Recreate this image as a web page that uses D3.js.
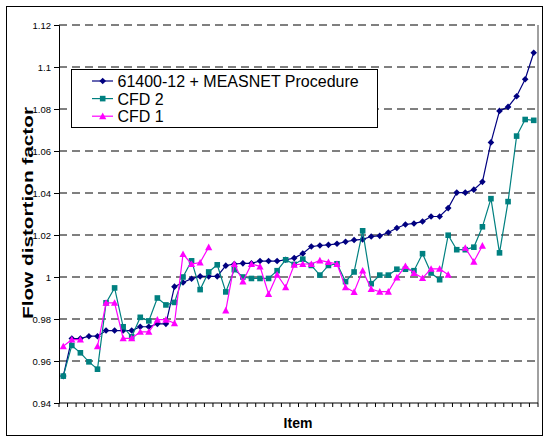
<!DOCTYPE html>
<html>
<head>
<meta charset="utf-8">
<script src="https://cdn.jsdelivr.net/npm/d3@7"></script>
<style>
  body { margin: 0; background: #fff; }
  svg { display: block; font-family: Arial, "Liberation Sans", sans-serif; }
</style>
</head>
<body>
<div id="chart"></div>
<script>
// item numbers (no labels shown on the axis)
var items = d3.range(1, 57);

var measnet = [0.9528, 0.9707, 0.9707, 0.9718, 0.9718, 0.9745, 0.9745, 0.9745, 0.9745, 0.9763,
  0.9763, 0.9777, 0.9777, 0.9954, 0.9974, 0.9992, 1.0003, 1.0003, 1.0003, 1.0054,
  1.0062, 1.0065, 1.0065, 1.0076, 1.0076, 1.0076, 1.0082, 1.0090, 1.0112, 1.0145,
  1.0150, 1.0153, 1.0158, 1.0168, 1.0176, 1.0179, 1.0193, 1.0196, 1.0212, 1.0233,
  1.0250, 1.0255, 1.0264, 1.0288, 1.0288, 1.0328, 1.0402, 1.0402, 1.0416, 1.0453,
  1.0641, 1.0791, 1.0810, 1.0861, 1.0942, 1.1068];

var cfd2 = [0.9528, 0.9674, 0.9639, 0.9596, 0.9561, 0.9877, 0.9948, 0.9763, 0.9715, 0.9808,
  0.9791, 0.9900, 0.9867, 0.9879, 1.0000, 1.0077, 0.9940, 1.0024, 1.0058, 0.9929,
  1.0035, 1.0000, 0.9993, 0.9993, 0.9993, 1.0030, 1.0082, 1.0060, 1.0085, 1.0055,
  1.0009, 1.0055, 1.0063, 0.9978, 1.0024, 1.0220, 0.9968, 1.0009, 1.0009, 1.0037,
  1.0037, 1.0030, 1.0111, 1.0019, 0.9987, 1.0199, 1.0130, 1.0130, 1.0142, 1.0239,
  1.0373, 1.0115, 1.0359, 1.0671, 1.0750, 1.0746];

var cfd1 = [0.9670, 0.9702, 0.9702, null, 0.9670, 0.9877, 0.9877, 0.9708, 0.9708, 0.9739,
  0.9739, 0.9797, 0.9797, 0.9780, 1.0109, 1.0062, 1.0069, 1.0142, null, 0.9841,
  1.0062, 0.9979, 1.0062, 1.0050, 0.9919, 1.0011, 0.9951, 1.0058, 1.0062, 1.0062,
  1.0079, 1.0071, 1.0062, 0.9951, 0.9929, 1.0031, 0.9943, 0.9930, 0.9930, 0.9998,
  1.0052, 1.0019, 0.9995, 1.0039, 1.0039, 1.0011, null, 1.0139, 1.0073, 1.0149,
  null, null, null, null, null, null];

var yTicks = [0.94, 0.96, 0.98, 1, 1.02, 1.04, 1.06, 1.08, 1.1, 1.12];

var series = [
  {label: "61400-12 + MEASNET Procedure", values: measnet, color: "#000080", marker: "diamond"},
  {label: "CFD 2", values: cfd2, color: "#008080", marker: "square"},
  {label: "CFD 1", values: cfd1, color: "#FF00FF", marker: "triangle"}
];

var width = 544, height = 438;
var plot = {left: 59, right: 538, top: 25, bottom: 403};

var svg = d3.select("#chart").append("svg")
  .attr("width", width)
  .attr("height", height);

// outer chart border
svg.append("rect")
  .attr("x", 6.5).attr("y", 6.5)
  .attr("width", 536).attr("height", 429)
  .attr("fill", "#fff")
  .attr("stroke", "#000")
  .attr("stroke-width", 1);

var x = d3.scaleBand().domain(items).range([plot.left, plot.right]);
var y = d3.scaleLinear().domain([0.94, 1.12]).range([plot.bottom, plot.top]);

// dashed gridlines
svg.append("g").selectAll("line")
  .data(yTicks.slice(1))
  .enter().append("line")
    .attr("x1", plot.left).attr("x2", plot.right)
    .attr("y1", function(d) { return y(d); })
    .attr("y2", function(d) { return y(d); })
    .attr("stroke", "#000")
    .attr("stroke-width", 1)
    .attr("stroke-dasharray", "8,5");

// right edge of plot area
svg.append("line")
  .attr("x1", plot.right).attr("x2", plot.right)
  .attr("y1", plot.top).attr("y2", plot.bottom)
  .attr("stroke", "#808080")
  .attr("stroke-width", 1.5);

// y axis
var yAxis = svg.append("g")
  .attr("transform", "translate(" + plot.left + ",0)")
  .call(d3.axisLeft(y).tickValues(yTicks).tickSize(5).tickPadding(3)
    .tickFormat(function(d) { return d3.format("")(+d.toFixed(2)); }));
yAxis.select(".domain").attr("stroke", "#000");
yAxis.selectAll("text")
  .attr("font-family", "Arial, 'Liberation Sans', sans-serif")
  .attr("font-size", 9.5)
  .attr("fill", "#000");

// x axis: small ticks at category boundaries, no labels
var xAxis = svg.append("g")
  .attr("transform", "translate(0," + plot.bottom + ")");
xAxis.append("line")
  .attr("x1", plot.left).attr("x2", plot.right)
  .attr("stroke", "#000");
xAxis.selectAll("line.tick")
  .data(items.concat([null]))
  .enter().append("line")
    .attr("class", "tick")
    .attr("x1", function(d, i) { return plot.left + i * x.step(); })
    .attr("x2", function(d, i) { return plot.left + i * x.step(); })
    .attr("y1", 0).attr("y2", 4)
    .attr("stroke", "#000");

// axis titles
svg.append("text")
  .attr("x", 298).attr("y", 428)
  .attr("text-anchor", "middle")
  .attr("font-weight", "bold")
  .attr("font-size", 14)
  .text("Item");

svg.append("text")
  .attr("transform", "translate(32.5,213) rotate(-90)")
  .attr("text-anchor", "middle")
  .attr("font-weight", "bold")
  .attr("font-size", 14.5)
  .attr("textLength", 212)
  .attr("lengthAdjust", "spacingAndGlyphs")
  .text("Flow distortion factor");

function cx(i) { return x(items[i]) + x.bandwidth() / 2; }

var line = d3.line()
  .defined(function(d) { return d != null; })
  .x(function(d, i) { return cx(i); })
  .y(function(d) { return y(d); });

function drawMarker(sel, kind, color) {
  if (kind === "diamond") {
    sel.append("path").attr("d", "M0,-3.3L3.3,0L0,3.3L-3.3,0Z").attr("fill", color);
  } else if (kind === "square") {
    sel.append("rect").attr("x", -2.8).attr("y", -2.8).attr("width", 5.6).attr("height", 5.6).attr("fill", color);
  } else {
    sel.append("path").attr("d", "M0,-3.6L3.6,3L-3.6,3Z").attr("fill", color);
  }
}

series.forEach(function(s) {
  var g = svg.append("g");
  g.append("path")
    .datum(s.values)
    .attr("d", line)
    .attr("fill", "none")
    .attr("stroke", s.color)
    .attr("stroke-width", 1.2);
  g.selectAll("g.pt")
    .data(s.values.map(function(v, i) { return {v: v, i: i}; }).filter(function(d) { return d.v != null; }))
    .enter().append("g")
      .attr("class", "pt")
      .attr("transform", function(d) { return "translate(" + cx(d.i) + "," + y(d.v) + ")"; })
      .each(function() { drawMarker(d3.select(this), s.marker, s.color); });
});

// legend
var legend = svg.append("g");
legend.append("rect")
  .attr("x", 71.5).attr("y", 69.5)
  .attr("width", 306).attr("height", 58)
  .attr("fill", "#fff")
  .attr("stroke", "#000");
series.forEach(function(s, i) {
  var ly = 81 + i * 17.6;
  legend.append("line")
    .attr("x1", 92).attr("x2", 113)
    .attr("y1", ly).attr("y2", ly)
    .attr("stroke", s.color)
    .attr("stroke-width", 1.2);
  var m = legend.append("g").attr("transform", "translate(102.7," + ly + ")");
  drawMarker(m, s.marker, s.color);
  legend.append("text")
    .attr("x", 117.5).attr("y", ly + 6)
    .attr("font-size", 16)
    .text(s.label);
});
</script>
</body>
</html>
